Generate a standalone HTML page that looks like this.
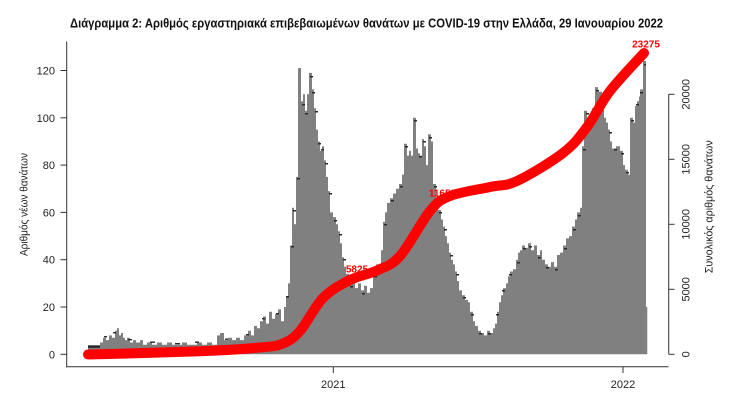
<!DOCTYPE html>
<html>
<head>
<meta charset="utf-8">
<style>
  html,body{margin:0;padding:0;background:#fff;}
  svg{display:block;}
  text{font-family:"Liberation Sans","DejaVu Sans",sans-serif;}
</style>
</head>
<body>
<svg width="734" height="410" viewBox="0 0 734 410" xmlns="http://www.w3.org/2000/svg">
  <rect x="0" y="0" width="734" height="410" fill="#ffffff"/>

  <!-- Title -->
  <text x="70" y="27.3" font-size="12.5" font-weight="bold" fill="#111" textLength="593" lengthAdjust="spacingAndGlyphs">Διάγραμμα 2: Αριθμός εργαστηριακά επιβεβαιωμένων θανάτων με COVID-19 στην Ελλάδα, 29 Ιανουαρίου 2022</text>

  <!-- Bars (daily deaths) -->
  <path fill="#808080" d="M88 354.3 V347.2 H100 V342.5 H103 V337.7 H106 V340.1 H109 V335.4 H112 V337.7 H115 V330.7 H117 V328.3 H119 V335.4 H121 V333.0 H123 V337.7 H125 V340.1 H127 V337.7 H130 V342.5 H133 V340.1 H136 V342.5 H140 V340.1 H143 V344.8 H147 V342.5 H152 V344.8 H157 V342.5 H162 V344.8 H167 V342.5 H172 V344.8 H182 V342.5 H187 V344.8 H197 V342.5 H202 V344.8 H207 V342.5 H212 V344.8 H217 V335.4 H220 V333.0 H224 V340.1 H228 V337.7 H232 V340.1 H236 V337.7 H240 V340.1 H244 V335.4 H248 V330.7 H251 V335.4 H254 V325.9 H257 V328.3 H260 V321.2 H263 V316.5 H266 V323.6 H269 V311.7 H272 V318.8 H275 V314.1 H278 V309.4 H281 V321.2 H284 V307.0 H286 V297.5 H288 V283.4 H290 V245.5 H292 V207.7 H294 V224.2 H296 V176.9 H298 V68.1 H301 V101.2 H303 V94.2 H305 V110.7 H307 V94.2 H309 V72.9 H312 V89.4 H314 V108.3 H316 V129.6 H318 V141.5 H320 V150.9 H322 V146.2 H324 V160.4 H326 V176.9 H328 V191.1 H330 V212.4 H333 V217.1 H336 V224.2 H338 V231.3 H340 V243.2 H342 V257.3 H344 V266.8 H346 V273.9 H349 V283.4 H352 V278.6 H355 V288.1 H358 V283.4 H361 V290.4 H364 V285.7 H367 V292.8 H370 V288.1 H373 V273.9 H376 V264.4 H379 V266.8 H381 V250.2 H383 V221.9 H385 V212.4 H387 V202.9 H390 V198.2 H393 V193.5 H396 V188.7 H399 V184.0 H402 V174.6 H404 V143.8 H407 V155.6 H409 V150.9 H411 V155.6 H413 V117.8 H416 V148.5 H418 V153.3 H420 V155.6 H422 V139.1 H424 V146.2 H426 V165.1 H428 V134.4 H431 V141.5 H433 V184.0 H436 V198.2 H438 V210.0 H441 V219.5 H443 V226.6 H445 V236.1 H447 V243.2 H449 V252.6 H451 V259.7 H453 V264.4 H455 V271.5 H457 V281.0 H459 V290.4 H462 V295.2 H465 V299.9 H468 V302.3 H470 V311.7 H473 V321.2 H475 V325.9 H478 V330.7 H481 V333.0 H484 V335.4 H487 V330.7 H490 V333.0 H493 V328.3 H495 V323.6 H497 V311.7 H499 V302.3 H501 V295.2 H503 V288.1 H506 V283.4 H508 V276.2 H510 V271.5 H513 V269.2 H516 V259.7 H518 V252.6 H520 V250.2 H522 V245.5 H525 V247.9 H528 V243.2 H531 V250.2 H534 V245.5 H537 V255.0 H540 V250.2 H542 V259.7 H545 V264.4 H548 V266.8 H551 V262.1 H554 V266.8 H557 V255.0 H560 V252.6 H563 V245.5 H566 V238.4 H569 V236.1 H572 V226.6 H575 V219.5 H577 V212.4 H580 V207.7 H582 V146.2 H584 V110.7 H587 V122.5 H590 V124.9 H592 V108.3 H595 V87.1 H598 V91.8 H602 V101.2 H604 V117.8 H606 V122.5 H608 V129.6 H610 V141.5 H612 V148.5 H616 V146.2 H620 V150.9 H623 V165.1 H625 V169.8 H628 V174.6 H630 V117.8 H633 V122.5 H635 V106.0 H637 V101.2 H639 V96.5 H640 V89.4 H643 V61.0 H646 V307.0 H647.3 V354.3 Z"/>

  <!-- dark label specks on bars -->
  <g fill="#2a2a2a">
    <rect x="88" y="345.3" width="12" height="2.6"/>
    <rect x="104" y="336" width="3" height="1.4"/><rect x="113" y="332" width="3" height="1.4"/>
    <rect x="128" y="339" width="4" height="1.4"/><rect x="150" y="341.5" width="5" height="1.4"/>
    <rect x="175" y="343" width="5" height="1.4"/><rect x="195" y="341.5" width="4" height="1.4"/>
    <rect x="225" y="338.5" width="3" height="1.4"/><rect x="246" y="334" width="3" height="1.4"/>
    <rect x="262" y="318" width="3" height="1.4"/><rect x="276" y="313" width="3" height="1.4"/>
    <rect x="286" y="296" width="3" height="1.5"/><rect x="291" y="246" width="3" height="1.5"/>
    <rect x="293" y="210" width="3" height="1.5"/><rect x="297" y="178" width="3" height="1.5"/>
    <rect x="302" y="104" width="3" height="1.5"/><rect x="305" y="113" width="3" height="1.5"/>
    <rect x="310" y="76" width="3" height="1.5"/><rect x="312" y="92" width="3" height="1.5"/>
    <rect x="315" y="111" width="3" height="1.5"/><rect x="318" y="143" width="3" height="1.5"/>
    <rect x="321" y="149" width="3" height="1.5"/><rect x="325" y="163" width="3" height="1.5"/>
    <rect x="329" y="193" width="3" height="1.5"/><rect x="334" y="220" width="3" height="1.5"/>
    <rect x="339" y="234" width="3" height="1.5"/><rect x="343" y="259" width="3" height="1.5"/>
    <rect x="350" y="286" width="3" height="1.5"/><rect x="362" y="293" width="3" height="1.5"/>
    <rect x="374" y="276" width="3" height="1.5"/><rect x="384" y="224" width="3" height="1.5"/>
    <rect x="391" y="200" width="3" height="1.5"/><rect x="400" y="186" width="3" height="1.5"/>
    <rect x="405" y="146" width="3" height="1.5"/><rect x="414" y="120" width="3" height="1.5"/>
    <rect x="419" y="156" width="3" height="1.5"/><rect x="423" y="141" width="3" height="1.5"/>
    <rect x="429" y="137" width="3" height="1.5"/><rect x="434" y="186" width="3" height="1.5"/>
    <rect x="439" y="212" width="3" height="1.5"/><rect x="444" y="229" width="3" height="1.5"/>
    <rect x="450" y="255" width="3" height="1.5"/><rect x="456" y="274" width="3" height="1.5"/>
    <rect x="463" y="297" width="3" height="1.5"/><rect x="471" y="314" width="3" height="1.5"/>
    <rect x="479" y="333" width="3" height="1.5"/><rect x="488" y="333" width="3" height="1.5"/>
    <rect x="496" y="314" width="3" height="1.5"/><rect x="502" y="290" width="3" height="1.5"/>
    <rect x="509" y="274" width="3" height="1.5"/><rect x="517" y="262" width="3" height="1.5"/>
    <rect x="523" y="248" width="3" height="1.5"/><rect x="529" y="246" width="3" height="1.5"/>
    <rect x="538" y="257" width="3" height="1.5"/><rect x="546" y="267" width="3" height="1.5"/>
    <rect x="555" y="269" width="3" height="1.5"/><rect x="564" y="248" width="3" height="1.5"/>
    <rect x="573" y="229" width="3" height="1.5"/><rect x="578" y="215" width="3" height="1.5"/>
    <rect x="583" y="149" width="3" height="1.5"/><rect x="586" y="113" width="3" height="1.5"/>
    <rect x="593" y="111" width="3" height="1.5"/><rect x="596" y="90" width="3" height="1.5"/>
    <rect x="603" y="104" width="3" height="1.5"/><rect x="609" y="132" width="3" height="1.5"/>
    <rect x="614" y="149" width="3" height="1.5"/><rect x="621" y="153" width="3" height="1.5"/>
    <rect x="626" y="172" width="3" height="1.5"/><rect x="631" y="120" width="3" height="1.5"/>
    <rect x="636" y="104" width="3" height="1.5"/><rect x="640" y="92" width="3" height="1.5"/>
    <rect x="644" y="64" width="2" height="1.5"/>
  </g>

  <!-- red labels (under line) -->
  <g fill="#ff0000" font-weight="bold" font-size="10" text-anchor="middle">
    <text x="357" y="272.7">5825</text>
    <text x="442.5" y="196.7">11652</text>
    <text x="646" y="47.3">23275</text>
  </g>

  <!-- cumulative deaths line (smooth) -->
  <path fill="none" stroke="#ff0000" stroke-width="10" stroke-linecap="round" stroke-linejoin="round"
    d="M88 354.5
       C106.67 353.97 171.33 352.47 200 351.3
       C228.67 350.13 246.17 348.8 260 347.5
       C273.83 346.2 276.33 346.25 283 343.5
       C289.67 340.75 293.33 338.58 300 331
       C306.67 323.42 314.67 306.5 323 298
       C331.33 289.5 341 284.58 350 280
       C359 275.42 368.67 274.5 377 270.5
       C385.33 266.5 391.17 265.92 400 256
       C408.83 246.08 421.67 221 430 211
       C438.33 201 440 200 450 196
       C460 192 478.83 189.5 490 187
       C501.17 184.5 504.83 186.67 517 181
       C529.17 175.33 551.33 162 563 153
       C574.67 144 579.17 137.33 587 127
       C594.83 116.67 600.5 103.33 610 91
       C619.5 78.67 638.33 59.33 644 53"/>

  <!-- axes -->
  <g stroke="#333" stroke-width="1" fill="none">
    <line x1="66.7" y1="41.5" x2="66.7" y2="367.2"/>
    <line x1="66.2" y1="366.7" x2="668.5" y2="366.7"/>
    <line x1="60.5" y1="354.3" x2="66.7" y2="354.3"/>
    <line x1="60.5" y1="307.0" x2="66.7" y2="307.0"/>
    <line x1="60.5" y1="259.7" x2="66.7" y2="259.7"/>
    <line x1="60.5" y1="212.4" x2="66.7" y2="212.4"/>
    <line x1="60.5" y1="165.1" x2="66.7" y2="165.1"/>
    <line x1="60.5" y1="117.8" x2="66.7" y2="117.8"/>
    <line x1="60.5" y1="70.5" x2="66.7" y2="70.5"/>
    <line x1="333.3" y1="366.7" x2="333.3" y2="373"/>
    <line x1="623" y1="366.7" x2="623" y2="373"/>
    <line x1="668.7" y1="94.3" x2="668.7" y2="354.3"/>
    <line x1="668.7" y1="354.3" x2="674.5" y2="354.3"/>
    <line x1="668.7" y1="289.3" x2="674.5" y2="289.3"/>
    <line x1="668.7" y1="224.3" x2="674.5" y2="224.3"/>
    <line x1="668.7" y1="159.3" x2="674.5" y2="159.3"/>
    <line x1="668.7" y1="94.3" x2="674.5" y2="94.3"/>
  </g>

  <!-- left tick labels -->
  <g font-size="11" fill="#222" text-anchor="end">
    <text x="55" y="358.3">0</text>
    <text x="55" y="311.0">20</text>
    <text x="55" y="263.7">40</text>
    <text x="55" y="216.4">60</text>
    <text x="55" y="169.1">80</text>
    <text x="55" y="121.8">100</text>
    <text x="55" y="74.5">120</text>
  </g>

  <!-- bottom labels -->
  <g font-size="11" fill="#222" text-anchor="middle">
    <text x="333.3" y="388">2021</text>
    <text x="623" y="388">2022</text>
  </g>

  <!-- right tick labels (rotated) -->
  <g font-size="11" fill="#222" text-anchor="middle">
    <text x="689.5" y="354.3" transform="rotate(-90 689.5 354.3)">0</text>
    <text x="689.5" y="289.3" transform="rotate(-90 689.5 289.3)">5000</text>
    <text x="689.5" y="224.3" transform="rotate(-90 689.5 224.3)">10000</text>
    <text x="689.5" y="159.3" transform="rotate(-90 689.5 159.3)">15000</text>
    <text x="689.5" y="94.3" transform="rotate(-90 689.5 94.3)">20000</text>
  </g>

  <!-- axis titles -->
  <text x="27.5" y="204.5" font-size="11" fill="#222" text-anchor="middle" transform="rotate(-90 27.5 204.5)" textLength="103" lengthAdjust="spacingAndGlyphs">Αριθμός νέων θανάτων</text>
  <text x="712.7" y="206.7" font-size="11" fill="#222" text-anchor="middle" transform="rotate(-90 712.7 206.7)" textLength="133" lengthAdjust="spacingAndGlyphs">Συνολικός αριθμός θανάτων</text>
</svg>
</body>
</html>
